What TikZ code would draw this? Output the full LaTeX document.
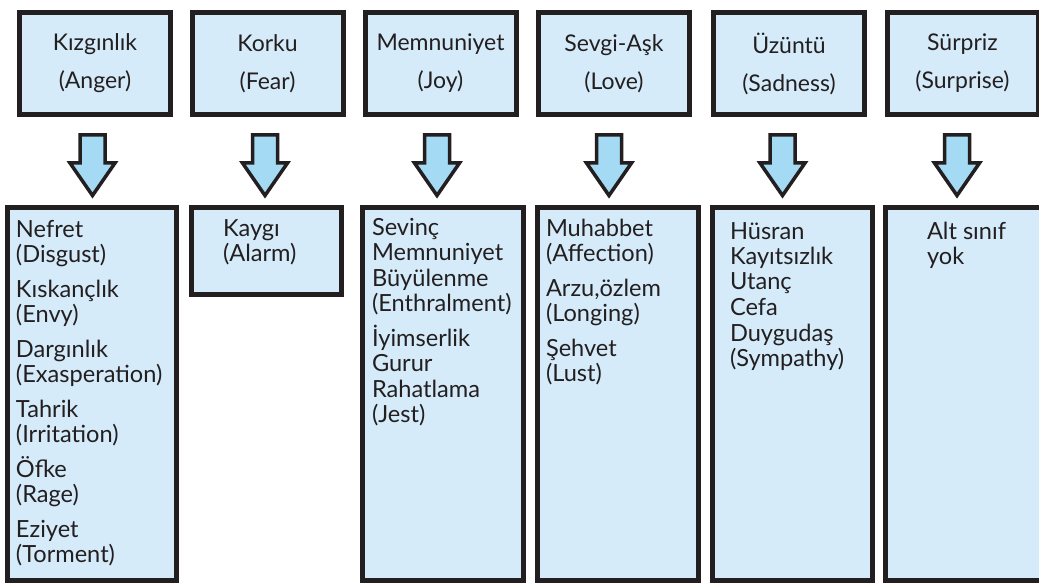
\documentclass[tikz,border=0pt]{standalone}
\usepackage{fontspec}
\setmainfont{Lato}
\usetikzlibrary{calc}
\definecolor{boxfill}{HTML}{D5EBFA}
\definecolor{arrfill}{HTML}{A5DAF5}
\definecolor{edge}{HTML}{231F20}
\begin{document}
\begin{tikzpicture}[x=1pt,y=-1pt,
  cat/.style={draw=edge, line width=5pt, fill=boxfill, inner sep=0pt, outer sep=0pt,
    minimum width=151pt, minimum height=102pt, align=center, text=edge,
    font=\fontsize{23}{38}\selectfont},
  subbox/.style={draw=edge, line width=5pt, fill=boxfill, inner sep=0pt, outer sep=0pt},
  item/.style={anchor=base west, inner sep=0pt, outer sep=0pt, text=edge,
    font=\fontsize{23.6}{25.5}\selectfont},
  blockarrow/.style={draw=edge, line width=3.5pt, fill=arrfill, miter limit=10}]
\clip (0,0) rectangle (1039,583);
\fill[white] (0,0) rectangle (1039,583);

% top category boxes
\node[cat] (t1) at (95,63.5)    {Kızgınlık\\(Anger)};
\node[cat] (t2) at (267.5,63.5) {Korku\\(Fear)};
\node[cat] (t3) at (440.5,63.5) {Memnuniyet\\(Joy)};
\node[cat] (t4) at (614,63.5)   {Sevgi-Aşk\\(Love)};
\node[cat] (t5) at (789,63.5)   {Üzüntü\\(Sadness)};
\node[cat] (t6) at (962.5,63.5) {Sürpriz\\(Surprise)};

% bottom boxes
\node[subbox, minimum width=169pt, minimum height=373pt] (b1) at (92,394) {};
\node[subbox, minimum width=150pt, minimum height=87pt]  (b2) at (266.5,251) {};
\node[subbox, minimum width=161pt, minimum height=373pt] (b3) at (443,394) {};
\node[subbox, minimum width=161pt, minimum height=373pt] (b4) at (618,394) {};
\node[subbox, minimum width=160pt, minimum height=373pt] (b5) at (792.5,394) {};
\node[subbox, minimum width=157pt, minimum height=373pt] (b6) at (964,394) {};

% arrows
\foreach \t/\d in {t1/-2.5, t2/-2.5, t3/-3.5, t4/-5, t5/-6.5, t6/-5.5}{
  \draw[blockarrow] ($(\t.south)+(\d,20.5)$) ++(-12.5,0) -- ++(25,0) -- ++(0,28)
     -- ++(10,0) -- ++(-22.5,32.5) -- ++(-22.5,-32.5) -- ++(10,0) -- cycle;
}

% texts of bottom boxes
\node[item] (x1) at (16,237) {\vtop{\hbox{Nefret}\hbox{(Disgust)}\vskip9pt
  \hbox{Kıskançlık}\hbox{(Envy)}\vskip9pt
  \hbox{Dargınlık}\hbox{(Exasperation)}\vskip9pt
  \hbox{Tahrik}\hbox{(Irritation)}\vskip9pt
  \hbox{Öfke}\hbox{(Rage)}\vskip9pt
  \hbox{Eziyet}\hbox{(Torment)}}};
\node[item] (x2) at (223,236) {\vtop{\hbox{Kaygı}\hbox{(Alarm)}}};
\node[item] (x3) at (372,235) {\vtop{\hbox{Sevinç}\hbox{Memnuniyet}\hbox{Büyülenme}\hbox{(Enthralment)}\vskip9pt
  \hbox{İyimserlik}\hbox{Gurur}\hbox{Rahatlama}\hbox{(Jest)}}};
\node[item] (x4) at (546,236) {\vtop{\hbox{Muhabbet}\hbox{(Affection)}\vskip9pt
  \hbox{Arzu,özlem}\hbox{(Longing)}\vskip9pt
  \hbox{Şehvet}\hbox{(Lust)}}};
\node[item] (x5) at (730,239) {\vtop{\hbox{Hüsran}\hbox{Kayıtsızlık}\hbox{Utanç}\hbox{Cefa}\hbox{Duygudaş}\hbox{(Sympathy)}}};
\node[item] (x6) at (927,239) {\vtop{\hbox{Alt sınıf}\hbox{yok}}};
\end{tikzpicture}
\end{document}
